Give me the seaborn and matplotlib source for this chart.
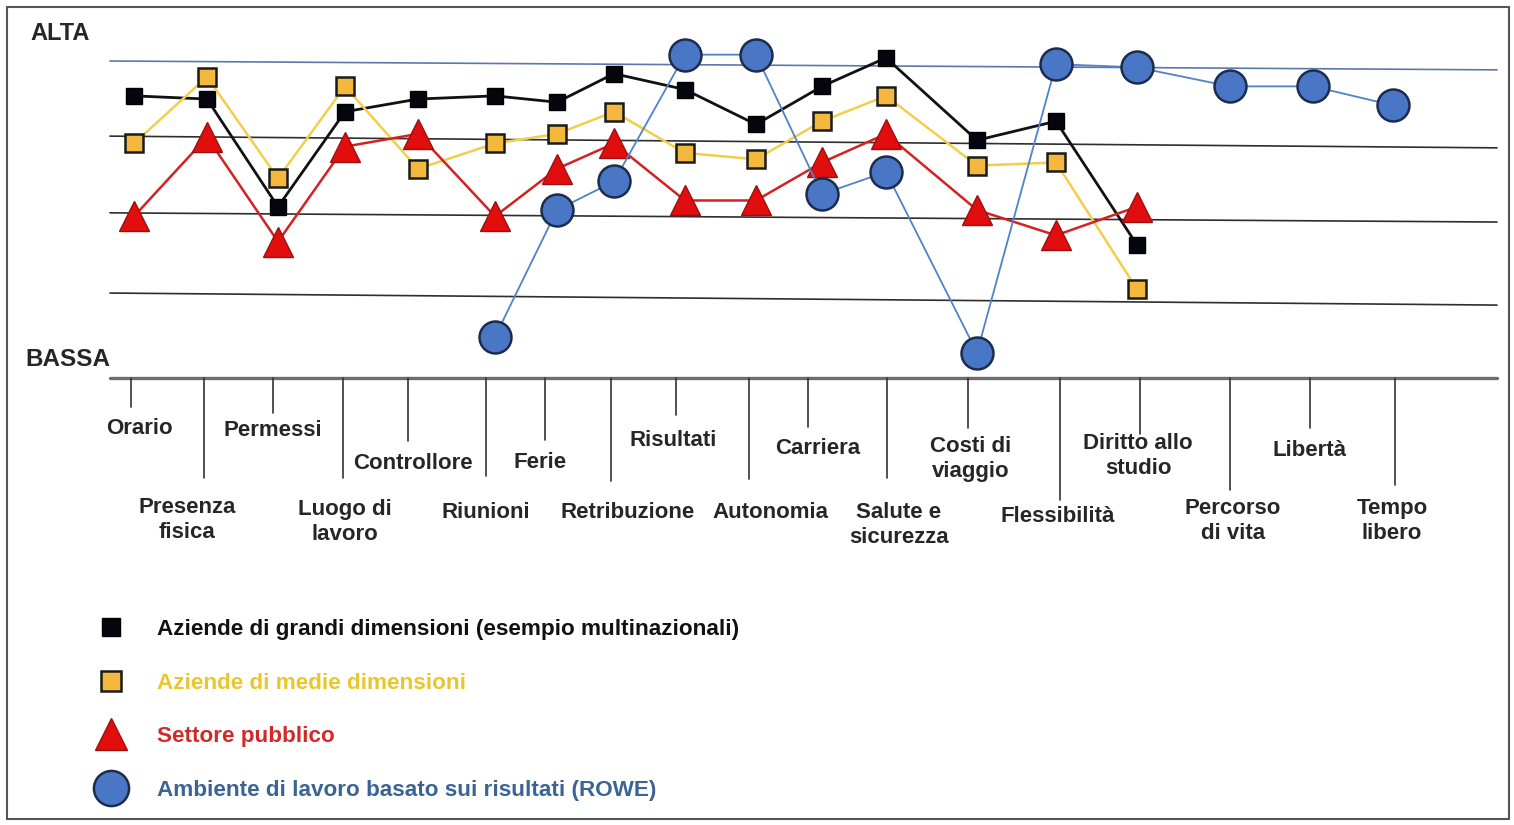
import pandas as pd
import matplotlib
matplotlib.use("Agg")
import matplotlib.pyplot as plt
import matplotlib.transforms as mtransforms
from matplotlib.lines import Line2D
from matplotlib.patches import Rectangle
import seaborn as sns

# categorie sull'asse orizzontale
categorie = ["Orario", "Presenza fisica", "Permessi", "Luogo di lavoro", "Controllore",
             "Riunioni", "Ferie", "Retribuzione", "Risultati", "Autonomia", "Carriera",
             "Salute e sicurezza", "Costi di viaggio", "Flessibilità", "Diritto allo studio",
             "Percorso di vita", "Libertà", "Tempo libero"]
etichette = ["Orario", "Presenza\nfisica", "Permessi", "Luogo di\nlavoro", "Controllore",
             "Riunioni", "Ferie", "Retribuzione", "Risultati", "Autonomia", "Carriera",
             "Salute e\nsicurezza", "Costi di\nviaggio", "Flessibilità", "Diritto allo\nstudio",
             "Percorso\ndi vita", "Libertà", "Tempo\nlibero"]

# valori (0 = BASSA, 100 = ALTA)
grandi = [89, 88, 54, 84, 88, 89, 87, 96, 91, 80, 92, 101, 75, 81, 42]
medie = [74, 95, 63, 92, 66, 74, 77, 84, 71, 69, 81, 89, 67, 68, 28]
pubblico = [51, 76, 43, 73, 77, 51, 66, 74, 56, 56, 68, 77, 53, 45, 54]
rowe = [13, 53, 62, 102, 102, 58, 65, 8, 99, 98, 92, 92, 86]   # da "Riunioni" in poi

nomi_serie = ["Aziende di grandi dimensioni (esempio multinazionali)",
              "Aziende di medie dimensioni",
              "Settore pubblico",
              "Ambiente di lavoro basato sui risultati (ROWE)"]

# linee di riferimento orizzontali (livello a sinistra, livello a destra)
livelli_sx = [100, 76.3, 52.1, 26.8]
livelli_dx = [97.2, 72.6, 49.2, 23.0]

# ---- impaginazione (pixel) ----
W, H = 1514, 825
PX_UNITA = 3.17          # pixel per unità di valore
Y_BASE = 378             # riga "BASSA"
X_INIZIO, X_FINE = 110, 1497
x_punti = [134, 207, 278, 345, 418, 495, 557, 614, 685, 756, 822, 886, 977, 1056,
           1137, 1230, 1313, 1393]
x_tacche = [131, 204, 273, 343, 408, 486, 545, 611, 676, 749, 808, 887, 968, 1060,
            1140, 1230, 1310, 1395]
fine_tacche = [407, 478, 413, 478, 441, 476, 440, 481, 415, 479, 427, 478, 428, 500,
               434, 490, 428, 485]
pos_etichette = [(139, 428), (187, 520), (273, 430), (345, 522), (413, 464), (486, 513),
                 (540, 463), (628, 513), (673, 440), (770, 513), (818, 448), (899, 525),
                 (971, 459), (1058, 517), (1138, 456), (1233, 521), (1310, 451),
                 (1392, 521)]

FONT = ["Liberation Sans", "DejaVu Sans"]

sns.set_theme(style="white")
plt.rcParams["font.family"] = FONT

# dataframe lungo
righe = []
for nome, valori, cats in [(nomi_serie[0], grandi, categorie[:15]),
                           (nomi_serie[1], medie, categorie[:15]),
                           (nomi_serie[2], pubblico, categorie[:15]),
                           (nomi_serie[3], rowe, categorie[5:])]:
    for c, v in zip(cats, valori):
        righe.append({"serie": nome, "categoria": c, "valore": v})
df = pd.DataFrame(righe)
df["x"] = df["categoria"].map(dict(zip(categorie, x_punti)))

fig = plt.figure(figsize=(W / 100, H / 100), dpi=100)
ax = fig.add_axes([0, 0, 1, 1])
ax.set_xlim(0, W)
ax.set_ylim(-(H - Y_BASE) / PX_UNITA, Y_BASE / PX_UNITA)
ax.axis("off")

# pixel dall'alto -> coordinate figura (solo per testi e decorazioni)
tr = mtransforms.blended_transform_factory(ax.transData, fig.transFigure)
def fy(py):
    return 1 - py / H

# linee di riferimento
colori_rif = ["#5C78A8", "#2E2E2E", "#2E2E2E", "#2E2E2E"]
for a, b, c in zip(livelli_sx, livelli_dx, colori_rif):
    ax.plot([X_INIZIO, X_FINE], [a, b], color=c, lw=1.2, zorder=1)

# asse BASSA e tacche
ax.plot([X_INIZIO, X_FINE], [0, 0], color="#6E6E6E", lw=2.4, zorder=1)
for xt, ft in zip(x_tacche, fine_tacche):
    ax.plot([xt, xt], [fy(Y_BASE), fy(ft)], transform=tr, color="#333333", lw=1.2)
for lab, (lx, ly) in zip(etichette, pos_etichette):
    ax.text(lx, fy(ly), lab, transform=tr, ha="center", va="center", fontsize=16,
            fontweight="bold", color="#262626", linespacing=1.3)

ax.text(30, fy(33), "ALTA", transform=tr, ha="left", va="center", fontsize=17,
        fontweight="bold", color="#262626")
ax.text(25, fy(360), "BASSA", transform=tr, ha="left", va="center", fontsize=17.5,
        fontweight="bold", color="#262626")

# serie
stili = [
    dict(color="#111111", marker="s", markersize=12, markerfacecolor="#05050F",
         markeredgecolor="#000000", markeredgewidth=1.0, linewidth=2.0),
    dict(color="#F2CF4A", marker="s", markersize=13, markerfacecolor="#F3B83C",
         markeredgecolor="#1A1A1A", markeredgewidth=1.8, linewidth=1.8),
    dict(color="#D42222", marker="^", markersize=21, markerfacecolor="#E20E0E",
         markeredgecolor="#9A1010", markeredgewidth=1.0, linewidth=1.8),
    dict(color="#4F82C8", marker="o", markersize=23, markerfacecolor="#4A76C6",
         markeredgecolor="#1C2C4C", markeredgewidth=1.8, linewidth=1.3),
]
for nome, stile in zip(nomi_serie, stili):
    sub = df[df["serie"] == nome]
    sns.lineplot(data=sub, x="x", y="valore", ax=ax, sort=False, label=nome,
                 zorder=3, **stile)
ax.axis("off")

# legenda con soli marcatori
proxy = [Line2D([], [], linestyle="None", marker=s["marker"], markersize=s["markersize"] * 1.1,
                markerfacecolor=s["markerfacecolor"], markeredgecolor=s["markeredgecolor"],
                markeredgewidth=s["markeredgewidth"]) for s in stili]
colori_testo = ["#111111", "#E9C62C", "#D02A2A", "#3A6494"]
leg = ax.legend(proxy, nomi_serie, loc="upper left", bbox_to_anchor=(94 / W, fy(619)),
                bbox_transform=fig.transFigure, frameon=False,
                prop=dict(family=FONT, weight="bold", size=16.2), labelcolor=colori_testo,
                handlelength=1.5, handletextpad=1.3, labelspacing=1.45,
                borderpad=0, borderaxespad=0)

# cornice
fig.patches.append(Rectangle((7 / W, 6 / H), 1502 / W, 812 / H, transform=fig.transFigure,
                             fill=False, edgecolor="#555555", lw=1.5))

fig.savefig("out.png", dpi=100, facecolor="white")
